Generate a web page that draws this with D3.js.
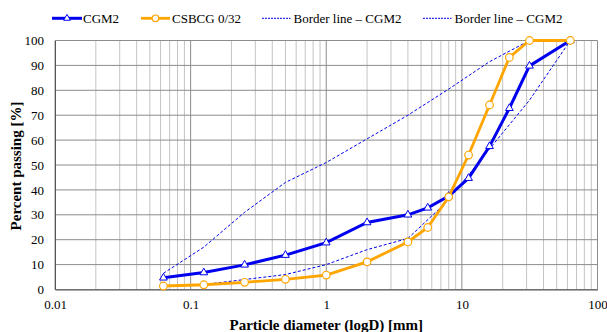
<!DOCTYPE html>
<html><head><meta charset="utf-8">
<script src="https://cdn.jsdelivr.net/npm/d3@7"></script>
<style>body{margin:0;background:#fff}svg{display:block}svg text{font-family:"Liberation Serif","Times New Roman","DejaVu Serif",serif}</style>
</head><body><svg id="c" width="607" height="332"></svg>
<script>
const sieves = [0.063, 0.125, 0.25, 0.5, 1, 2, 4, 5.6, 8, 11.2, 16, 22.4, 31.5, 63];
const cgm2 = [4.7, 6.8, 9.9, 13.8, 18.8, 26.9, 30, 32.8, 37.5, 44.7, 57.5, 72.8, 89.8, 100];
const csbcg = [1.4, 1.9, 2.9, 4.1, 5.8, 11.1, 19.1, 24.9, 37.2, 54, 74.1, 93.2, 100, 100];
const upperSizes = [0.063, 0.125, 0.25, 0.5, 1, 2, 4, 8, 16, 31.5, 63];
const upperVals = [6.5, 17, 31, 43, 51, 60.5, 70, 80.5, 91.5, 100, 100];
const lowerSizes = [0.125, 0.5, 1, 2, 4, 8, 16, 31.5, 63];
const lowerVals = [2, 6, 10, 16, 20.5, 36, 56.5, 76, 100];
const xTicks = [0.01, 0.1, 1, 10, 100];
const yTicks = [0,10,20,30,40,50,60,70,80,90,100];
const legendLabels = ["CGM2", "CSBCG 0/32", "Border line – CGM2", "Border line – CGM2"];

const FONT = '"Liberation Serif","Times New Roman","DejaVu Serif",serif';
const svg = d3.select("#c");
const L = 55, R = 597.5, T = 40.5, B = 289.5;
const x = d3.scaleLog().domain([0.01, 100]).range([L, R]);
const y = d3.scaleLinear().domain([0, 100]).range([B, T]);
const BLUE = "#0000ee", ORANGE = "#ffa500";

// minor vertical grid
const minors = [];
for (let e = -2; e < 2; e++) for (let m = 2; m <= 9; m++) minors.push(m * Math.pow(10, e));
svg.append("g").selectAll("line").data(minors).join("line")
  .attr("x1", d => x(d)).attr("x2", d => x(d)).attr("y1", T).attr("y2", B)
  .attr("stroke", "#c4c4c4").attr("stroke-width", 1);
svg.append("g").selectAll("line").data(xTicks).join("line")
  .attr("x1", d => x(d)).attr("x2", d => x(d)).attr("y1", T).attr("y2", B)
  .attr("stroke", "#8c8c8c").attr("stroke-width", 1);
svg.append("g").selectAll("line").data(yTicks).join("line")
  .attr("x1", L).attr("x2", R).attr("y1", d => y(d)).attr("y2", d => y(d))
  .attr("stroke", "#8c8c8c").attr("stroke-width", 1);

// axes
const xa = svg.append("g").attr("transform", `translate(0,${B})`).attr("font-family", FONT)
  .call(d3.axisBottom(x).tickValues(xTicks).tickFormat(d => String(d)).tickSize(0).tickPadding(10));
xa.attr("font-family", FONT);
xa.select(".domain").attr("stroke", "#555");
xa.selectAll("text").attr("font-size", 13).attr("fill", "#000").style("font-family", FONT);
const ya = svg.append("g").attr("transform", `translate(${L},0)`)
  .call(d3.axisLeft(y).tickValues(yTicks).tickSize(0).tickPadding(11));
ya.attr("font-family", FONT);
ya.select(".domain").attr("stroke", "#555");
ya.selectAll("text").attr("font-size", 13).attr("fill", "#000").style("font-family", FONT);

// lines
const line = d3.line().x(d => x(d[0])).y(d => y(d[1]));
const up = upperSizes.map((s, i) => [s, upperVals[i]]);
const lo = lowerSizes.map((s, i) => [s, lowerVals[i]]);
const cg = sieves.map((s, i) => [s, cgm2[i]]);
const cs = sieves.map((s, i) => [s, csbcg[i]]);
[up, lo].forEach(p => svg.append("path").attr("d", line(p)).attr("fill", "none")
  .attr("stroke", BLUE).attr("stroke-width", 1).attr("stroke-dasharray", "3,2"));
svg.append("path").attr("d", line(cg)).attr("fill", "none").attr("stroke", BLUE).attr("stroke-width", 3);
svg.append("path").attr("d", line(cs)).attr("fill", "none").attr("stroke", ORANGE).attr("stroke-width", 2.8);

const tri = d3.symbol().type(d3.symbolTriangle).size(26);
svg.append("g").selectAll("path").data(cg).join("path")
  .attr("d", tri).attr("transform", d => `translate(${x(d[0])},${y(d[1])})`)
  .attr("fill", "#fff").attr("stroke", BLUE).attr("stroke-width", 1);
svg.append("g").selectAll("circle").data(cs).join("circle")
  .attr("cx", d => x(d[0])).attr("cy", d => y(d[1])).attr("r", 3.8)
  .attr("fill", "#fff").attr("stroke", ORANGE).attr("stroke-width", 1.2);

// legend
const ly = 18.3;
const legX = [52, 141, 262, 423];
legendLabels.forEach((lab, i) => {
  const g = svg.append("g").attr("transform", `translate(${legX[i]},${ly})`);
  if (i === 0) {
    g.append("line").attr("x1", 0).attr("x2", 30).attr("stroke", BLUE).attr("stroke-width", 3);
    g.append("path").attr("d", d3.symbol().type(d3.symbolTriangle).size(20)).attr("transform", "translate(15,0)").attr("fill", "#fff").attr("stroke", BLUE);
  } else if (i === 1) {
    g.append("line").attr("x1", 0).attr("x2", 29).attr("stroke", ORANGE).attr("stroke-width", 2.8);
    g.append("circle").attr("cx", 14.5).attr("r", 3.3).attr("fill", "#fff").attr("stroke", ORANGE).attr("stroke-width", 1.2);
  } else {
    g.append("line").attr("x1", 0).attr("x2", 28.5).attr("stroke", BLUE).attr("stroke-width", 1).attr("stroke-dasharray", "2,1");
  }
  g.append("text").attr("x", i < 2 ? 31 : 31.5).attr("y", 4.3).attr("font-size", 13)
    .style("font-family", FONT).text(lab);
});

// axis titles
svg.append("text").attr("x", (L + R) / 2).attr("y", 330).attr("text-anchor", "middle")
  .attr("font-size", 15).attr("font-weight", "bold").style("font-family", FONT).text("Particle diameter (logD) [mm]");
svg.append("text").attr("transform", `translate(21,166) rotate(-90)`).attr("text-anchor", "middle")
  .attr("font-size", 15).attr("font-weight", "bold").style("font-family", FONT).text("Percent passing [%]");
</script></body></html>
